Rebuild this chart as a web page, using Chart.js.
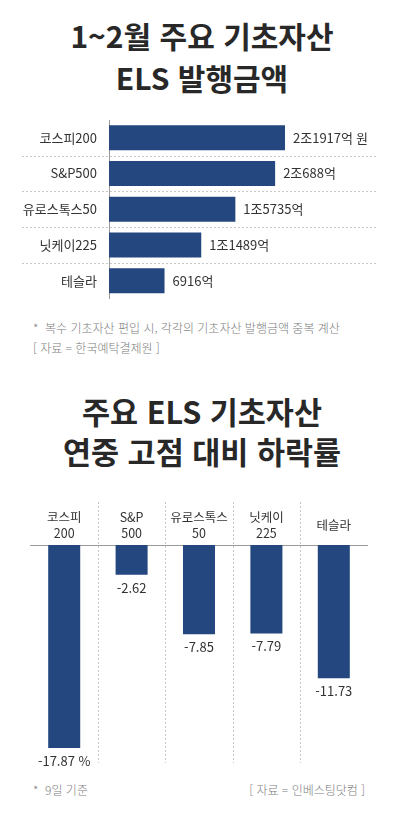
<!DOCTYPE html>
<html lang="ko">
<head>
<meta charset="utf-8">
<script src="https://cdn.jsdelivr.net/npm/chart.js@4"></script>
<style>
  html, body { margin: 0; padding: 0; background: #fff; }
  body { width: 404px; height: 819px; position: relative; overflow: hidden;
         font-family: "Noto Sans CJK KR", "Noto Sans", sans-serif; }
  .title { position: absolute; left: 0; width: 404px; text-align: center;
           font-weight: bold; font-size: 30px; color: #282828; }
  .note { position: absolute; font-size: 12px; font-weight: 300; color: #7d7d7d; white-space: nowrap; }
  .wrap { position: absolute; left: 0; width: 404px; }
</style>
</head>
<body>
<div class="title" style="top:14px; line-height:42px;">1~2월 주요 기초자산<br>ELS 발행금액</div>
<div class="wrap" style="top:100px; height:218px;"><canvas id="c1"></canvas></div>
<div class="note" style="left:33px; top:319px;">*&nbsp; 복수 기초자산 편입 시, 각각의 기초자산 발행금액 중복 계산</div>
<div class="note" style="left:33px; top:339px;">[ 자료 = 한국예탁결제원 ]</div>

<div class="title" style="top:391px; line-height:40px; font-size:30.5px;">주요 ELS 기초자산<br>연중 고점 대비 하락률</div>
<div class="wrap" style="top:495px; height:275px;"><canvas id="c2"></canvas></div>
<div class="note" style="left:33px; top:781px;">*&nbsp; 9일 기준</div>
<div class="note" style="right:39px; top:781px;">[ 자료 = 인베스팅닷컴 ]</div>

<script>
// ---- Data: chart 1 (발행금액, 단위: 억 원) ----
const issueCategories = ['코스피200', 'S&P500', '유로스톡스50', '닛케이225', '테슬라'];
const issueValues = [21917, 20688, 15735, 11489, 6916];

// ---- Data: chart 2 (연중 고점 대비 하락률, %) ----
const dropCategories = [['코스피', '200'], ['S&P', '500'], ['유로스톡스', '50'], ['닛케이', '225'], '테슬라'];
const dropValues = [-17.87, -2.62, -7.85, -7.79, -11.73];

const BAR = '#24477f';
const FONT = '"Noto Sans CJK KR", "Noto Sans", sans-serif';

function fmtIssue(v, i) {
  const jo = Math.floor(v / 10000), rest = v % 10000;
  let s = (jo > 0 ? jo + '조' : '') + rest + '억';
  if (i === 0) s += ' 원';
  return s;
}
function fmtDrop(v, i) {
  let s = v.toFixed(2);
  if (i === 0) s += ' %';
  return s;
}

// Chart 1 plugins
const hDashes = {
  id: 'hDashes',
  beforeDatasetsDraw(chart) {
    const ctx = chart.ctx, y = chart.scales.y, n = issueCategories.length;
    ctx.save();
    ctx.strokeStyle = '#c8c8c8';
    ctx.lineWidth = 1;
    ctx.setLineDash([2, 2]);
    for (let i = 1; i < n; i++) {
      const py = Math.round((y.getPixelForTick(i - 1) + y.getPixelForTick(i)) / 2) + 0.5;
      ctx.beginPath();
      ctx.moveTo(22, py);
      ctx.lineTo(chart.chartArea.right, py);
      ctx.stroke();
    }
    ctx.restore();
  }
};
const hLabels = {
  id: 'hLabels',
  afterDatasetsDraw(chart) {
    const ctx = chart.ctx, meta = chart.getDatasetMeta(0);
    ctx.save();
    ctx.font = '13px ' + FONT;
    ctx.fillStyle = '#333';
    ctx.textAlign = 'left';
    ctx.textBaseline = 'middle';
    meta.data.forEach((el, i) => {
      ctx.fillText(fmtIssue(issueValues[i], i), el.x + 8, el.y);
    });
    ctx.restore();
  }
};

new Chart(document.getElementById('c1'), {
  type: 'bar',
  data: {
    labels: issueCategories,
    datasets: [{ data: issueValues, backgroundColor: BAR, categoryPercentage: 1, barPercentage: 0.7 }]
  },
  options: {
    indexAxis: 'y',
    responsive: true,
    maintainAspectRatio: false,
    animation: false,
    layout: { padding: { top: 20, bottom: 19.5, left: 0, right: 28 } },
    plugins: { legend: { display: false }, tooltip: { enabled: false } },
    scales: {
      x: { display: false, min: 0, max: 33250 },
      y: {
        afterFit(scale) { scale.width = 109; },
        grid: { display: true, drawOnChartArea: false, drawTicks: true, tickLength: 12, tickColor: 'rgba(0,0,0,0)' },
        border: { display: true, color: '#9a9a9a', width: 1 },
        ticks: { padding: 0, color: '#333', font: { size: 13, family: FONT } }
      }
    }
  },
  plugins: [hDashes, hLabels]
});

// Chart 2 plugins
const vDashes = {
  id: 'vDashes',
  beforeDatasetsDraw(chart) {
    const ctx = chart.ctx, x = chart.scales.x, n = dropValues.length;
    ctx.save();
    ctx.strokeStyle = '#c8c8c8';
    ctx.lineWidth = 1;
    ctx.setLineDash([2, 2]);
    for (let i = 1; i < n; i++) {
      const px = Math.round((x.getPixelForTick(i - 1) + x.getPixelForTick(i)) / 2) + 0.5;
      ctx.beginPath();
      ctx.moveTo(px, 7);
      ctx.lineTo(px, chart.chartArea.bottom);
      ctx.stroke();
    }
    ctx.restore();
  }
};
const vLabels = {
  id: 'vLabels',
  afterDatasetsDraw(chart) {
    const ctx = chart.ctx, meta = chart.getDatasetMeta(0);
    ctx.save();
    ctx.font = '13px ' + FONT;
    ctx.fillStyle = '#333';
    ctx.textAlign = 'center';
    ctx.textBaseline = 'middle';
    meta.data.forEach((el, i) => {
      ctx.fillText(fmtDrop(dropValues[i], i), el.x, el.y + 13);
    });
    ctx.restore();
  }
};

new Chart(document.getElementById('c2'), {
  type: 'bar',
  data: {
    labels: dropCategories,
    datasets: [{ data: dropValues, backgroundColor: BAR, categoryPercentage: 1, barPercentage: 0.475 }]
  },
  options: {
    responsive: true,
    maintainAspectRatio: false,
    animation: false,
    layout: { padding: { top: 0, bottom: 7, left: 30.5, right: 36.5 } },
    plugins: { legend: { display: false }, tooltip: { enabled: false } },
    scales: {
      x: {
        position: 'top',
        afterFit(scale) { scale.height = 50; },
        grid: { display: false, drawTicks: false },
        border: { display: true, color: '#9a9a9a', width: 1 },
        ticks: { padding: 12, crossAlign: 'center', color: '#333', maxRotation: 0, autoSkip: false,
                 font: { size: 12.5, family: FONT, lineHeight: 1.3 } }
      },
      y: { display: false, min: -19.2, max: 0 }
    }
  },
  plugins: [vDashes, vLabels]
});
</script>
</body>
</html>
